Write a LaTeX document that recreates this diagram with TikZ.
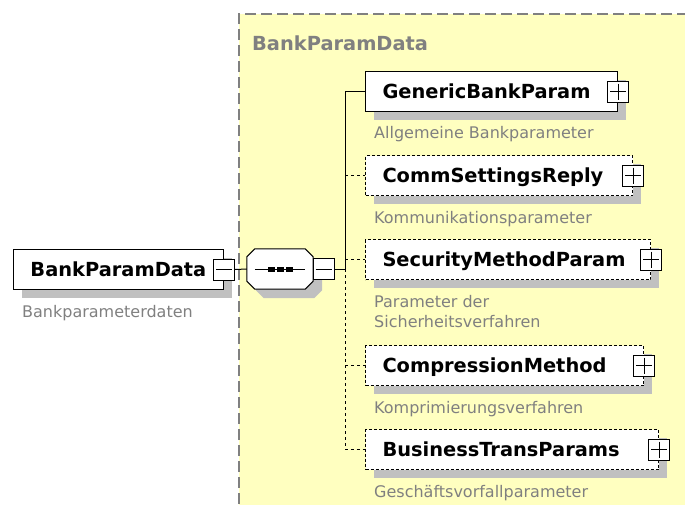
\documentclass[tikz,border=0pt]{standalone}
\usepackage{fontspec}
\setmainfont{DejaVu Sans}
\usetikzlibrary{shadows,calc}
\definecolor{ylw}{RGB}{255,255,192}
\definecolor{shd}{RGB}{192,192,192}
\definecolor{dsc}{RGB}{128,128,128}
\newcommand{\octpath}[2]{($(seq.north west)+(#1+8,#2)$) -- ($(seq.north east)+(#1-8,#2)$) -- ($(seq.north east)+(#1,#2+8)$)
  -- ($(seq.south east)+(#1,#2-8)$) -- ($(seq.south east)+(#1-8,#2)$) -- ($(seq.south west)+(#1+8,#2)$)
  -- ($(seq.south west)+(#1,#2-8)$) -- ($(seq.north west)+(#1,#2+8)$) -- cycle}
\begin{document}
\begin{tikzpicture}[x=1pt,y=-1pt,
  boxshadow/.style={general shadow={fill=shd, shadow xshift=8pt, shadow yshift=-8pt}},
  elem/.style={draw=black, fill=white, line width=1pt, boxshadow, minimum height=40pt,
    inner xsep=17pt, inner ysep=0pt, anchor=north west, align=left,
    text height=13pt, text depth=0pt, font=\fontsize{19.4}{19}\selectfont\bfseries},
  optelem/.style={elem, dash pattern=on 3pt off 2pt},
  pmbox/.style={draw=black, fill=white, line width=1pt, minimum size=21pt, inner sep=0pt},
  pmline/.style={line width=1pt, shorten >=3pt, shorten <=3pt},
  desc/.style={text=dsc, font=\fontsize{16}{20}\selectfont, anchor=base west, align=left, inner sep=0pt},
  conn/.style={line width=1pt},
  optconn/.style={line width=1pt, dash pattern=on 3pt off 3pt},
  seqarea/.style={minimum width=66pt, minimum height=40pt, inner sep=0pt},
]
\useasboundingbox (0,0) rectangle (685,504);
% group area
\fill[ylw] (239,14) rectangle (700,520);
\draw[dsc, line width=1.5pt, dash pattern=on 11pt off 5pt] (239,520) -- (239,14) -- (700,14);
\node[anchor=base west, inner sep=0pt, text=dsc, font=\fontsize{19.4}{19}\selectfont\bfseries] (title) at (252,50) {BankParamData};

% root element
\node[elem, text width=176pt] (root) at (13,249) {BankParamData};
\node[pmbox] (rminus) at (root.east) {};
\draw[pmline] (rminus.west) -- (rminus.east);
\node[desc] (d0) at (22,317) {Bankparameterdaten};

% sequence compositor
\node[seqarea] (seq) at (280,269) {};
\fill[shd] \octpath{9}{9};
\draw[line width=1pt, fill=white] \octpath{0}{0};
\draw[line width=1pt] ($(seq.west)+(8,0)$) -- ($(seq.east)+(-8,0)$);
\foreach \dx in {-9,0,9} \fill ($(seq.center)+(\dx-3.5,-2.5)$) rectangle +(7,5);
\node[pmbox] (sminus) at (323.5,269) {};
\draw[pmline] (sminus.west) -- (sminus.east);
\draw[conn] (rminus.east) -- (seq.west);
\coordinate (bus) at (345,269);
\draw[conn] (sminus.east) -- (bus);

% children
\node[elem, text width=218pt] (e1) at (365,71) {GenericBankParam};
\node[optelem, text width=233pt] (e2) at (365,155) {CommSettingsReply};
\node[optelem, text width=251pt] (e3) at (365,239) {SecurityMethodParam};
\node[optelem, text width=244pt] (e4) at (365,345) {CompressionMethod};
\node[optelem, text width=259pt] (e5) at (365,429) {BusinessTransParams};
\foreach \i in {1,...,5}{
  \node[pmbox] (p\i) at (e\i.east) {};
  \draw[pmline] (p\i.west) -- (p\i.east);
  \draw[pmline] (p\i.north) -- (p\i.south);
}
\node[desc] (d1) at (374,138) {Allgemeine Bankparameter};
\node[desc] (d2) at (374,223) {Kommunikationsparameter};
\node[desc] (d3) at (374,327) {Parameter der\\Sicherheitsverfahren};
\node[desc] (d4) at (374,413) {Komprimierungsverfahren};
\node[desc] (d5) at (374,497) {Geschäftsvorfallparameter};

% connectors
\draw[conn] (bus) |- (e1.west);
\draw[optconn] (e2.west -| bus) -- (e2.west);
\draw[optconn] (e3.west -| bus) -- (e3.west);
\draw[optconn] (bus) |- (e5.west);
\draw[optconn] (e4.west -| bus) -- (e4.west);
\end{tikzpicture}
\end{document}
